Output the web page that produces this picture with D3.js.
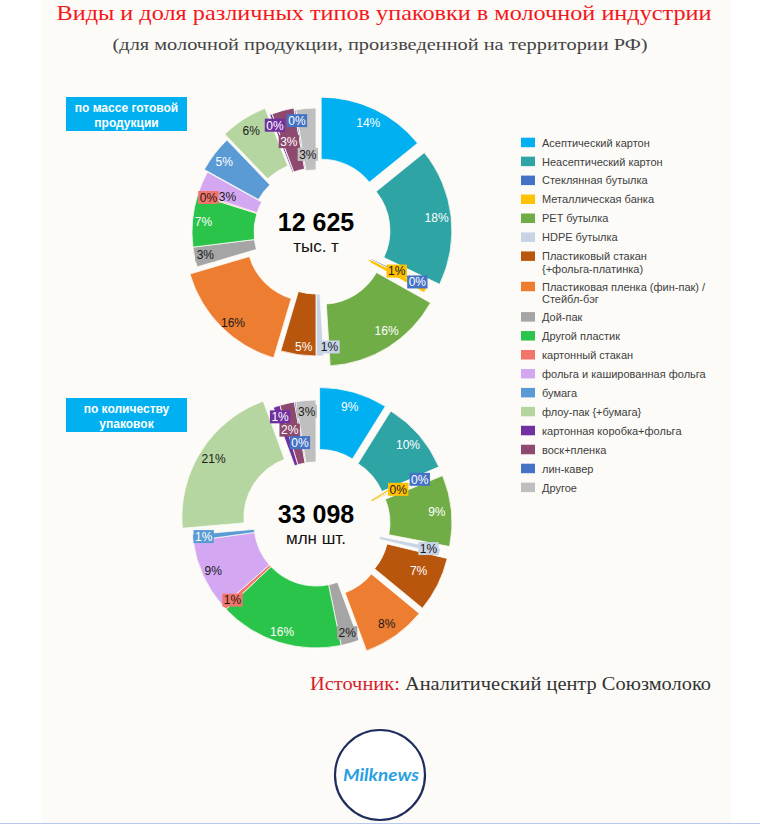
<!DOCTYPE html>
<html><head><meta charset="utf-8">
<script src="https://cdn.jsdelivr.net/npm/d3@7"></script>
<style>
html,body{margin:0;padding:0;background:#fff;}
svg{display:block;}
</style></head>
<body>
<svg id="chart" width="760" height="824"></svg>
<script>
// ---------- DATA ----------
const categories = [
  "Асептический картон",
  "Неасептический картон",
  "Стеклянная бутылка",
  "Металлическая банка",
  "PET бутылка",
  "HDPE бутылка",
  "Пластиковый стакан\n{+фольга-платинка)",
  "Пластиковая пленка (фин-пак) /\nСтейбл-бэг",
  "Дой-пак",
  "Другой пластик",
  "картонный стакан",
  "фольга и кашированная фольга",
  "бумага",
  "флоу-пак {+бумага}",
  "картонная коробка+фольга",
  "воск+пленка",
  "лин-кавер",
  "Другое"
];
// share, % — by mass of finished products
const massShares  = [14.2, 18.0, 0.3, 0.7, 15.9, 1.0, 4.6, 15.9, 2.6, 6.8, 0.2, 3.0, 4.8, 6.2, 0.3, 2.9, 0.2, 2.6];
// share, % — by number of packages
const countShares = [8.9, 9.6, 0.1, 0.2, 9.3, 0.7, 7.2, 8.4, 2.4, 16.2, 0.6, 9.3, 0.8, 20.8, 0.9, 1.9, 0.2, 2.6];
const totals = ["12 625", "33 098"];
const units  = ["тыс. т", "млн шт."];
const panelTitles = [["по массе готовой", "продукции"], ["по количеству", "упаковок"]];
const title = "Виды и доля различных типов упаковки в молочной индустрии";
const subtitle = "(для молочной продукции, произведенной на территории РФ)";
const sourceLabel = "Источник:";
const sourceText = " Аналитический центр Союзмолоко";
const logoText = "Milknews";

// ---------- STYLE ----------
const colors = ["#00B0F0","#2EA4A5","#4472C4","#FFC000","#70AD47","#C8D4E6","#B9560E","#ED7D31",
                "#A5A5A5","#2BC44A","#F2756B","#D4A7F2","#5B9BD5","#B5D6A0","#7030A0","#8E4A6E","#4472C4","#BFBFBF"];
const darkText = [false,false,false,true,false,true,false,true,true,false,true,true,false,true,false,false,false,true];
const explodeMass  = [12,12,0,0,12,0,0,10,0,0,0,0,4,10,2,2,0,0];
const explodeCount = [13,12,0,0,12,3,12,13,0,0,0,0,0,12,0,0,0,0];
const nudgeMass  = {3:[-19,-14], 4:[6,-4], 5:[10,2], 6:[4,3], 7:[2,6], 11:[15,10], 15:[3,20], 17:[1,35]};
const nudgeCount = {3:[-22,9], 6:[-6,-8], 15:[0,16], 16:[3,30]};

const W = 760, H = 824;
const svg = d3.select("#chart");
const FONT = "'Liberation Sans', Arial, sans-serif";

svg.append("rect").attr("width", W).attr("height", H).attr("fill", "#ffffff");
svg.append("rect").attr("x", 42).attr("y", 0).attr("width", 689).attr("height", 823).attr("fill", "#FCFBF8");
svg.append("line").attr("x1", 0).attr("x2", W).attr("y1", 823.5).attr("y2", 823.5).attr("stroke", "#B7C9EE").attr("stroke-width", 1);

// Titles
svg.append("text").attr("x", 384).attr("y", 20).attr("text-anchor", "middle")
  .attr("font-family", "'Liberation Serif', 'DejaVu Serif', serif").attr("font-size", 21)
  .attr("fill", "#F5161B").attr("textLength", 655).attr("lengthAdjust", "spacingAndGlyphs").text(title);
svg.append("text").attr("x", 380).attr("y", 50).attr("text-anchor", "middle")
  .attr("font-family", "'Liberation Serif', 'DejaVu Serif', serif").attr("font-size", 17)
  .attr("fill", "#444").attr("textLength", 535).attr("lengthAdjust", "spacingAndGlyphs").text(subtitle);

const innerR = 62, outerR = 124;
const arc = d3.arc().innerRadius(innerR).outerRadius(outerR);
const pie = d3.pie().sort(null).value(d => d.v);

function donut(shares, cx, cy, explode, nudge, idx, badgeY) {
  const data = shares.map((v, i) => ({v, i}));
  const arcs = pie(data);
  const g = svg.append("g").attr("transform", `translate(${cx},${cy})`);
  const off = a => { const m = (a.startAngle + a.endAngle) / 2, e = explode[a.data.i];
    return [Math.sin(m) * e, -Math.cos(m) * e]; };
  g.selectAll("path.slice").data(arcs).join("path").attr("class", "slice")
    .attr("d", arc).attr("fill", d => colors[d.data.i])
    .attr("stroke", "#FCFBF8").attr("stroke-width", 0.8)
    .attr("transform", d => `translate(${off(d)})`);

  function labelPos(a) {
    const m = (a.startAngle + a.endAngle) / 2, e = explode[a.data.i];
    const r = 113 + 0.7 * e;
    const n = nudge[a.data.i] || [0, 0];
    return [Math.sin(m) * r + n[0], -Math.cos(m) * r + n[1]];
  }

  // leader line for metal can
  const metal = arcs[3];
  const mm = (metal.startAngle + metal.endAngle) / 2;
  const lp = labelPos(metal);
  g.append("line").attr("x1", Math.sin(mm) * (innerR - 2)).attr("y1", -Math.cos(mm) * (innerR - 2))
    .attr("x2", lp[0] - 8).attr("y2", lp[1]).attr("stroke", colors[3]).attr("stroke-width", 1.2);

  const lab = g.selectAll("g.lab").data(arcs).join("g").attr("class", "lab")
    .attr("transform", d => `translate(${labelPos(d)})`);
  lab.each(function(d) {
    const s = d3.select(this);
    const txt = Math.round(d.value / d3.sum(shares) * 100) + "%";
    const t = s.append("text").attr("text-anchor", "middle").attr("dy", "0.36em")
      .attr("font-family", FONT).attr("font-size", 12)
      .attr("fill", darkText[d.data.i] ? "#1a1a1a" : "#ffffff").text(txt);
    if (d.value < 2.95) {
      const w = t.node().getComputedTextLength() + 3;
      s.insert("rect", "text").attr("x", -w / 2).attr("y", -6.5).attr("width", w).attr("height", 13)
        .attr("fill", colors[d.data.i]);
    }
  });

  // centre text
  g.append("text").attr("text-anchor", "middle").attr("y", -1).attr("font-family", FONT)
    .attr("font-weight", "bold").attr("font-size", 25).attr("fill", "#000").text(totals[idx]);
  g.append("text").attr("text-anchor", "middle").attr("y", 20).attr("font-family", FONT)
    .attr("font-size", 17).attr("fill", "#111").text(units[idx]);

  // badge
  const b = svg.append("g").attr("transform", `translate(66,${badgeY})`);
  b.append("rect").attr("width", 121).attr("height", 34).attr("fill", "#00B0F0");
  panelTitles[idx].forEach((l, k) => b.append("text").attr("x", 60.5).attr("y", 15 + k * 14.5)
    .attr("text-anchor", "middle").attr("font-family", FONT).attr("font-weight", "bold")
    .attr("font-size", 12).attr("fill", "#fff").text(l));
}

donut(massShares, 316, 232, explodeMass, nudgeMass, 0, 97);
donut(countShares, 316, 524, explodeCount, nudgeCount, 1, 398);

// Legend
const leg = svg.append("g").attr("transform", "translate(521,0)");
let ly = 142.7;
categories.forEach((c, i) => {
  const lines = c.split("\n");
  leg.append("rect").attr("x", 0).attr("y", ly - 5).attr("width", 14).attr("height", 9.5).attr("fill", colors[i]);
  lines.forEach((l, k) => leg.append("text").attr("x", 21).attr("y", ly + k * 12.4).attr("dy", "0.35em")
    .attr("font-family", FONT).attr("font-size", 11).attr("fill", "#404040").text(l));
  ly += 18.95 + (lines.length - 1) * 11.4;
});

// Source
const src = svg.append("text").attr("x", 711).attr("y", 690).attr("text-anchor", "end")
  .attr("font-family", "'Liberation Serif', 'DejaVu Serif', serif").attr("font-size", 18)
  .attr("textLength", 401).attr("lengthAdjust", "spacingAndGlyphs");
src.append("tspan").attr("fill", "#D61F2C").text(sourceLabel);
src.append("tspan").attr("fill", "#333").text(sourceText);

// Logo
svg.append("circle").attr("cx", 380).attr("cy", 775).attr("r", 45).attr("fill", "#fff")
  .attr("stroke", "#1F2D5C").attr("stroke-width", 2.2);
svg.append("text").attr("x", 381).attr("y", 781).attr("text-anchor", "middle")
  .attr("font-family", "Lato, 'DejaVu Sans', sans-serif").attr("font-style", "italic").attr("font-weight", "bold")
  .attr("font-size", 17).attr("fill", "#2A9FE2").attr("textLength", 76).attr("lengthAdjust", "spacingAndGlyphs")
  .text(logoText);
</script>
</body></html>
